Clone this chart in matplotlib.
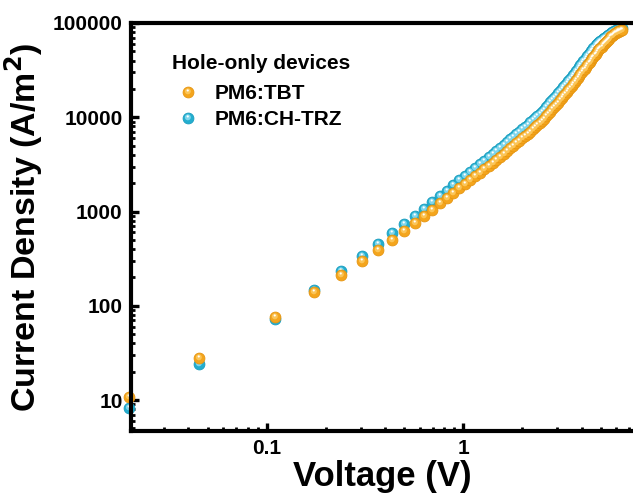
import numpy as np
import matplotlib
matplotlib.use("Agg")
import matplotlib.pyplot as plt
from matplotlib.path import Path
from matplotlib.markers import MarkerStyle
from matplotlib.legend_handler import HandlerTuple
from matplotlib.ticker import LogLocator, FuncFormatter, NullFormatter

plt.rcParams['font.family'] = ['Liberation Sans', 'DejaVu Sans']
plt.rcParams['font.weight'] = 'bold'

voltage = [0.02, 0.045, 0.11, 0.175, 0.24, 0.305, 0.37, 0.435, 0.5, 0.565,
           0.63, 0.695, 0.76, 0.825, 0.89, 0.955, 1.02, 1.085, 1.15, 1.215,
           1.28, 1.345, 1.41, 1.475, 1.54, 1.605, 1.67, 1.735, 1.8, 1.865,
           1.93, 1.995, 2.06, 2.125, 2.19, 2.255, 2.32, 2.385, 2.45, 2.515,
           2.58, 2.645, 2.71, 2.775, 2.84, 2.905, 2.97, 3.035, 3.1, 3.165,
           3.23, 3.295, 3.36, 3.425, 3.49, 3.555, 3.62, 3.685, 3.75, 3.815,
           3.88, 3.945, 4.01, 4.075, 4.14, 4.205, 4.27, 4.335, 4.4, 4.465,
           4.53, 4.595, 4.66, 4.725, 4.79, 4.855, 4.92, 4.985, 5.05, 5.115,
           5.18, 5.245, 5.31, 5.375, 5.44, 5.505, 5.57, 5.635, 5.7, 5.765,
           5.83, 5.895, 5.96, 6.025, 6.09, 6.155, 6.22, 6.285, 6.35, 6.415]

j_tbt = [10.8, 28, 76, 139, 212, 298, 393, 497, 620, 753,
         894, 1042, 1218, 1397, 1578, 1767, 1962, 2164, 2375, 2594,
         2817, 3048, 3288, 3532, 3783, 4066, 4362, 4667, 4983, 5304,
         5636, 5977, 6324, 6683, 7047, 7422, 7805, 8195, 8596, 9040,
         9620, 10230, 10860, 11500, 12170, 12860, 13580, 14310, 15070, 15850,
         16650, 17480, 18330, 19330, 20360, 21440, 22550, 23700, 24880, 26110,
         27350, 28650, 29990, 31370, 32800, 34260, 35750, 37300, 38890, 40500,
         42190, 43880, 45620, 47410, 49240, 51140, 52970, 54580, 56210, 57880,
         59580, 61270, 62980, 64740, 66530, 68360, 70200, 71940, 73450, 74820,
         76210, 77450, 78520, 79620, 80540, 81470, 82220, 82990, 83560, 84140]

j_chtrz = [8.2, 24, 73, 147, 235, 334, 451, 586, 735, 894,
           1060, 1250, 1446, 1659, 1894, 2138, 2384, 2640, 2909, 3191,
           3479, 3780, 4094, 4415, 4729, 5083, 5453, 5834, 6229, 6630,
           7045, 7471, 7905, 8354, 8809, 9278, 9756, 10240, 10750, 11300,
           12030, 12790, 13580, 14380, 15210, 16080, 16980, 17890, 18840, 19810,
           20810, 21850, 22910, 24160, 25450, 26800, 28190, 29630, 31100, 32640,
           34190, 35810, 37490, 39210, 41000, 42830, 44690, 46630, 48610, 50420,
           52320, 54190, 56110, 57840, 59580, 61370, 63030, 64400, 65770, 67140,
           68520, 69850, 71170, 72510, 73850, 75200, 76870, 78410, 79690, 80810,
           81930, 82870, 83620, 84400, 84970, 85540, 86330, 86720, 87320, 87510]

series_labels = ["PM6:TBT", "PM6:CH-TRZ"]
legend_title = "Hole-only devices"
x_ticks = [0.1, 1]
y_ticks = [10, 100, 1000, 10000, 100000]


def offset_circle_marker(cx, cy, r):
    circ = Path.circle((cx, cy), r)
    verts = np.vstack([[[1.0, 1.0]], [[-1.0, -1.0]], circ.vertices])
    codes = np.concatenate([[Path.MOVETO, Path.MOVETO], circ.codes])
    return MarkerStyle(Path(verts, codes))


mid_marker = offset_circle_marker(-0.12, 0.22, 0.55)
spec_marker = offset_circle_marker(-0.14, 0.38, 0.2)

styles = {
    "PM6:TBT": dict(base="#F4A51C", edge="#E69510", mid="#FBC558"),
    "PM6:CH-TRZ": dict(base="#23AECF", edge="#1A9DBF", mid="#7FD6EC"),
}

fig = plt.figure(figsize=(6.33, 4.97), dpi=100)
ax = fig.add_axes([131 / 633, 66 / 497, 502 / 633, 408 / 497])

ms = 7.8


def draw_series(x, y, st, z):
    h1, = ax.plot(x, y, ls='none', marker='o', ms=ms, mfc=st["base"],
                  mec=st["edge"], mew=0.6, zorder=z, clip_on=False)
    h2, = ax.plot(x, y, ls='none', marker=mid_marker, ms=ms, mfc=st["mid"],
                  mec='none', zorder=z + 0.1, clip_on=False)
    h3, = ax.plot(x, y, ls='none', marker=spec_marker, ms=ms, mfc='white',
                  mec='none', zorder=z + 0.2, clip_on=False)
    return (h1, h2, h3)


hb = draw_series(voltage, j_chtrz, styles["PM6:CH-TRZ"], 3)
ho = draw_series(voltage, j_tbt, styles["PM6:TBT"], 4)

ax.set_xscale('log')
ax.set_yscale('log')
ax.set_xlim(0.0204, 7.3)
ax.set_ylim(4.7, 1e5)

ax.xaxis.set_major_locator(plt.FixedLocator(x_ticks))
ax.yaxis.set_major_locator(plt.FixedLocator(y_ticks))
ax.xaxis.set_minor_locator(LogLocator(base=10, subs=np.arange(2, 10)))
ax.yaxis.set_minor_locator(LogLocator(base=10, subs=np.arange(2, 10)))
ax.xaxis.set_major_formatter(FuncFormatter(lambda v, p: f"{v:g}"))
ax.yaxis.set_major_formatter(FuncFormatter(lambda v, p: f"{v:.0f}"))
ax.xaxis.set_minor_formatter(NullFormatter())
ax.yaxis.set_minor_formatter(NullFormatter())

ax.tick_params(which='major', direction='in', length=6, width=2.4,
               labelsize=15, pad=6, top=False, right=False)
ax.tick_params(which='minor', direction='in', length=3, width=2.0,
               top=False, right=False)

for s in ['left', 'bottom', 'top']:
    ax.spines[s].set_linewidth(3)
    ax.spines[s].set_zorder(6)
ax.spines['right'].set_visible(False)

ax.set_xlabel("Voltage (V)", fontsize=25, fontweight='bold', labelpad=1)
ax.set_ylabel("Current Density (A/m$^\\mathbf{2}$)", fontsize=24.5,
              fontweight='bold')
ax.yaxis.set_label_coords(-0.172, 0.5)

leg = ax.legend([ho, hb], series_labels, title=legend_title,
                handler_map={tuple: HandlerTuple(ndivide=1, pad=0)},
                frameon=False, fontsize=15, title_fontsize=15,
                loc='upper left', bbox_to_anchor=(0.066, 0.945),
                handlelength=1.5, handletextpad=0.5, labelspacing=0.35,
                alignment='left', borderaxespad=0)
leg.get_title().set_fontweight('bold')
leg._legend_box.sep = 8.2

fig.savefig("out.png", dpi=100)
